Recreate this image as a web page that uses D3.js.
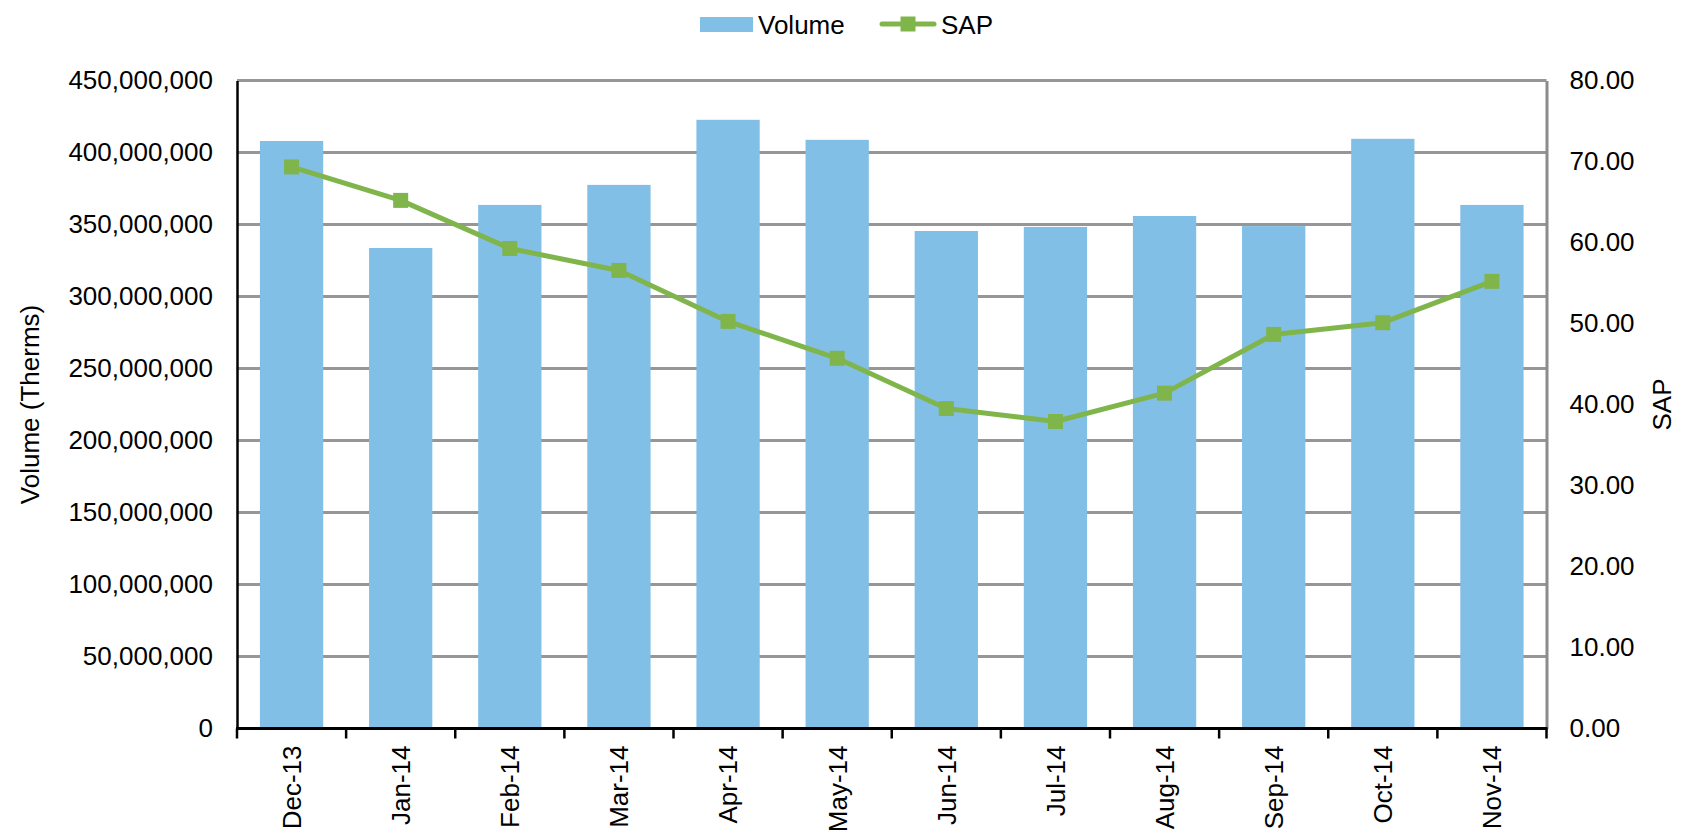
<!DOCTYPE html>
<html>
<head>
<meta charset="utf-8">
<script src="https://cdn.jsdelivr.net/npm/d3@7"></script>
<style>
  html, body { margin: 0; padding: 0; background: #fff; }
  svg { display: block; }
  text { font-family: "Liberation Sans", Arial, sans-serif; fill: #000; }
</style>
</head>
<body>
<svg id="chart" width="1682" height="835"></svg>
<script>
const categories = ["Dec-13","Jan-14","Feb-14","Mar-14","Apr-14","May-14","Jun-14","Jul-14","Aug-14","Sep-14","Oct-14","Nov-14"];
const volume = [408000000, 333700000, 363600000, 377500000, 422700000, 408800000, 345500000, 348300000, 355900000, 348900000, 409500000, 363600000];
const sap = [69.33, 65.2, 59.26, 56.55, 50.26, 45.7, 39.5, 37.9, 41.4, 48.65, 50.1, 55.2];
const leftTicks = [0, 50000000, 100000000, 150000000, 200000000, 250000000, 300000000, 350000000, 400000000, 450000000];
const rightTicks = [0, 10, 20, 30, 40, 50, 60, 70, 80];

const W = 1682, H = 835;
const margin = {left: 237, right: 135.5, top: 80.5, bottom: 106.5};
const x0 = margin.left, x1 = W - margin.right, yTop = margin.top, yBot = H - margin.bottom;

const svg = d3.select("#chart");
const fs = 26;
const barColor = "#82BFE6";
const lineColor = "#80B54C";
const gridColor = "#969696";

const x = d3.scaleBand().domain(categories).range([x0, x1]).paddingInner(0.42).paddingOuter(0.21);
const xStep = d3.scaleBand().domain(categories).range([x0, x1]).padding(0);
const yL = d3.scaleLinear().domain([0, 450000000]).range([yBot, yTop]);
const yR = d3.scaleLinear().domain([0, 80]).range([yBot, yTop]);

// gridlines
svg.append("g").selectAll("line").data(leftTicks.filter(d => d > 0)).join("line")
  .attr("x1", x0).attr("x2", x1)
  .attr("y1", d => yL(d)).attr("y2", d => yL(d))
  .attr("stroke", gridColor).attr("stroke-width", 3);

// bars
svg.append("g").selectAll("rect").data(categories).join("rect")
  .attr("x", d => x(d))
  .attr("width", x.bandwidth())
  .attr("y", (d, i) => yL(volume[i]))
  .attr("height", (d, i) => yBot - yL(volume[i]))
  .attr("fill", barColor);

// left axis
const fmt = d3.format(",");
const gL = svg.append("g").attr("transform", `translate(${x0},0)`)
  .call(d3.axisLeft(yL).tickValues(leftTicks).tickFormat(d => fmt(d)).tickSize(0).tickPadding(24));
gL.select(".domain").attr("stroke", "#000").attr("stroke-width", 2.5);
gL.selectAll("text").attr("font-size", fs).attr("font-family", "Liberation Sans, Arial, sans-serif").attr("fill", "#000");

// right axis
const gR = svg.append("g").attr("transform", `translate(${x1},0)`)
  .call(d3.axisRight(yR).tickValues(rightTicks).tickFormat(d3.format(".2f")).tickSize(0).tickPadding(23));
gR.select(".domain").attr("stroke", "#8C8C8C").attr("stroke-width", 3);
gR.selectAll("text").attr("font-size", fs).attr("font-family", "Liberation Sans, Arial, sans-serif").attr("fill", "#000");

// bottom axis
const gB = svg.append("g").attr("transform", `translate(0,${yBot})`)
  .call(d3.axisBottom(x).tickSize(0).tickPadding(0));
gB.select(".domain").remove();
gB.selectAll(".tick line").remove();
gB.selectAll("text")
  .attr("font-size", fs).attr("font-family", "Liberation Sans, Arial, sans-serif").attr("fill", "#000")
  .attr("text-anchor", "end")
  .attr("transform", "rotate(-90)")
  .attr("x", -17).attr("y", 0).attr("dy", "0.36em")
  .attr("dx", 0);
svg.append("line").attr("x1", x0 - 1).attr("x2", x1 + 1).attr("y1", yBot).attr("y2", yBot)
  .attr("stroke", "#000").attr("stroke-width", 3);
const bounds = categories.map(c => xStep(c)).concat([x1]);
svg.append("g").selectAll("line").data(bounds).join("line")
  .attr("x1", d => d).attr("x2", d => d)
  .attr("y1", yBot).attr("y2", yBot + 10)
  .attr("stroke", "#000").attr("stroke-width", 2.5);

// SAP line
const cx = (d, i) => x(categories[i]) + x.bandwidth() / 2;
const line = d3.line().x((d, i) => cx(d, i)).y(d => yR(d));
svg.append("path").datum(sap).attr("d", line)
  .attr("fill", "none").attr("stroke", lineColor).attr("stroke-width", 5).attr("stroke-linejoin", "round");
const ms = 15;
svg.append("g").selectAll("rect").data(sap).join("rect")
  .attr("x", (d, i) => cx(d, i) - ms / 2).attr("y", d => yR(d) - ms / 2)
  .attr("width", ms).attr("height", ms).attr("fill", lineColor);

// axis titles
svg.append("text").attr("transform", `translate(30,${(yTop + yBot) / 2}) rotate(-90)`)
  .attr("text-anchor", "middle").attr("dy", "0.36em").attr("font-size", fs).text("Volume (Therms)");
svg.append("text").attr("transform", `translate(1662,${(yTop + yBot) / 2}) rotate(-90)`)
  .attr("text-anchor", "middle").attr("dy", "0.36em").attr("font-size", fs).text("SAP");

// legend
const lg = svg.append("g");
lg.append("rect").attr("x", 700).attr("y", 17).attr("width", 53).attr("height", 15).attr("fill", barColor);
lg.append("text").attr("x", 758).attr("y", 24.5).attr("dy", "0.36em").attr("font-size", fs).text("Volume");
lg.append("line").attr("x1", 882).attr("x2", 934).attr("y1", 24).attr("y2", 24)
  .attr("stroke", lineColor).attr("stroke-width", 5).attr("stroke-linecap", "round");
lg.append("rect").attr("x", 900.5).attr("y", 16.5).attr("width", 15).attr("height", 15).attr("fill", lineColor);
lg.append("text").attr("x", 941).attr("y", 24.5).attr("dy", "0.36em").attr("font-size", fs).text("SAP");
</script>
</body>
</html>
